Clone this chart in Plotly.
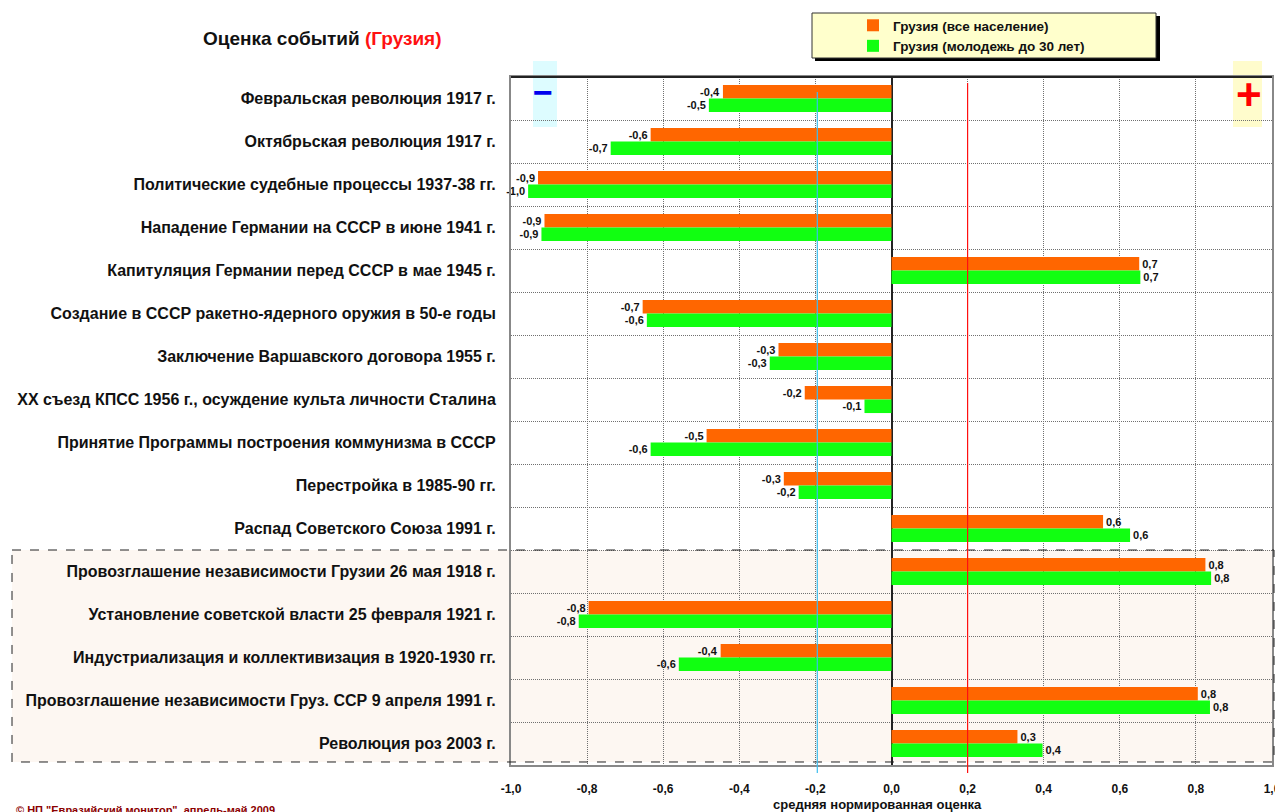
import plotly.graph_objects as go

events = [
    "Февральская революция 1917 г.",
    "Октябрьская революция 1917 г.",
    "Политические судебные процессы 1937-38 гг.",
    "Нападение Германии на СССР в июне 1941 г.",
    "Капитуляция Германии перед СССР в мае 1945 г.",
    "Создание в СССР ракетно-ядерного оружия в 50-е годы",
    "Заключение Варшавского договора 1955 г.",
    "XX съезд КПСС 1956 г., осуждение культа личности Сталина",
    "Принятие Программы построения коммунизма в СССР",
    "Перестройка в 1985-90 гг.",
    "Распад Советского Союза 1991 г.",
    "Провозглашение независимости Грузии 26 мая 1918 г.",
    "Установление советской власти 25 февраля 1921 г.",
    "Индустриализация и коллективизация в 1920-1930 гг.",
    "Провозглашение независимости Груз. ССР 9 апреля 1991 г.",
    "Революция роз 2003 г.",
]
all_population = [-0.443, -0.633, -0.929, -0.912, 0.651, -0.654, -0.297, -0.228,
                  -0.486, -0.283, 0.556, 0.825, -0.796, -0.449, 0.805, 0.331]
youth = [-0.480, -0.738, -0.955, -0.920, 0.654, -0.643, -0.320, -0.071,
         -0.633, -0.244, 0.627, 0.840, -0.822, -0.559, 0.837, 0.397]
series_names = ["Грузия (все население)", "Грузия (молодежь до 30 лет)"]
tick_values = [-1.0, -0.8, -0.6, -0.4, -0.2, 0.0, 0.2, 0.4, 0.6, 0.8, 1.0]
tick_labels = [f"{v:.1f}".replace(".", ",") for v in tick_values]
georgia_block_start = 11  # index of first Georgia-specific event
ref_lines = {"neg": -0.195, "pos": 0.2}


def fmt(v):
    return f"{v:.1f}".replace(".", ",")


FONT = "Liberation Sans, Arial, sans-serif"

# the page body has an 8px default margin; layout is expressed in figure pixels
W, H = 1275, 804
L, T, R, B = 503, 69, 11, 47
PW, PH = W - L - R, H - T - B


def px(xpix):
    """screen x pixel -> paper x"""
    return (xpix - 8 - L) / PW


def py(ypix):
    """screen y pixel -> paper y"""
    return 1 - (ypix - 8 - T) / PH


fig = go.Figure()
for name, vals, color, grp in [
    (series_names[0], all_population, "#FF6600", "a"),
    (series_names[1], youth, "#11FF11", "b"),
]:
    fig.add_trace(go.Bar(
        y=events, x=vals, orientation="h", name=name,
        marker=dict(color=color, line=dict(width=0)),
        text=[fmt(v) for v in vals], textposition="outside",
        textfont=dict(family=FONT, size=11, color="#111", weight="bold"),
        constraintext="none", cliponaxis=False, legendgroup=grp,
    ))

n = len(events)
shapes = []
# Georgia-specific block background and dashed frame
shapes.append(dict(type="rect", xref="paper", yref="y",
                   x0=px(12), x1=px(1274), y0=georgia_block_start - 0.5, y1=n - 0.5 - 0.07,
                   fillcolor="#FDF7F2", line=dict(width=0), layer="below"))
shapes.append(dict(type="rect", xref="paper", yref="y",
                   x0=px(12), x1=px(1274), y0=georgia_block_start - 0.5, y1=n - 0.5 - 0.07,
                   fillcolor="rgba(0,0,0,0)", line=dict(color="#222", width=1, dash="dash"),
                   layer="above"))
# reference vertical lines
shapes.append(dict(type="line", xref="x", yref="paper", x0=ref_lines["neg"], x1=ref_lines["neg"],
                   y0=py(92), y1=py(773), line=dict(color="#3CBEEF", width=1.2), layer="above"))
shapes.append(dict(type="line", xref="x", yref="paper", x0=ref_lines["pos"], x1=ref_lines["pos"],
                   y0=py(83), y1=py(773), line=dict(color="#FF1010", width=1.2), layer="above"))
# plot top border
shapes.append(dict(type="line", xref="paper", yref="paper", x0=0, x1=1, y0=1, y1=1,
                   line=dict(color="#222", width=2)))
# +/- marker backgrounds
shapes.append(dict(type="rect", xref="paper", yref="paper", x0=px(533), x1=px(557),
                   y0=py(127), y1=py(61), fillcolor="#DDFCFF", line=dict(width=0), layer="below"))
shapes.append(dict(type="rect", xref="paper", yref="paper", x0=px(1233), x1=px(1262),
                   y0=py(127), y1=py(61), fillcolor="#FFFCCC", line=dict(width=0), layer="below"))
# legend box shadow + box
shapes.append(dict(type="rect", xref="paper", yref="paper",
                   x0=px(815), x1=px(1160), y0=py(61), y1=py(16),
                   fillcolor="#000", line=dict(width=0)))
shapes.append(dict(type="rect", xref="paper", yref="paper",
                   x0=px(812), x1=px(1156), y0=py(58), y1=py(13),
                   fillcolor="#FFFFCC", line=dict(color="#333", width=1)))

annotations = [
    dict(text="Оценка событий <span style='color:#FF1111'>(Грузия)</span>",
         xref="paper", yref="paper", x=px(322), y=py(38),
         xanchor="center", yanchor="middle", showarrow=False,
         font=dict(family=FONT, size=19, color="#111", weight="bold")),
    dict(text="средняя нормированная оценка",
         xref="paper", yref="paper", x=px(877), y=py(804),
         xanchor="center", yanchor="middle", showarrow=False,
         font=dict(family=FONT, size=13, color="#111", weight="bold")),
    dict(text="© НП \"Евразийский монитор\", апрель-май 2009",
         xref="paper", yref="paper", x=px(14), y=py(802),
         xanchor="left", yanchor="top", showarrow=False,
         font=dict(family=FONT, size=11, color="#8B0000", weight="bold")),
    dict(text="−", xref="paper", yref="paper", x=px(543), y=py(92),
         xanchor="center", yanchor="middle", showarrow=False,
         font=dict(family=FONT, size=34, color="#0000EE", weight="bold")),
    dict(text="+", xref="paper", yref="paper", x=px(1249), y=py(94),
         xanchor="center", yanchor="middle", showarrow=False,
         font=dict(family=FONT, size=44, color="#FF0000", weight="bold")),
]

fig.update_layout(
    width=W, height=H,
    margin=dict(l=L, r=R, t=T, b=B, autoexpand=False),
    paper_bgcolor="white", plot_bgcolor="rgba(0,0,0,0)",
    barmode="group", bargap=0.37, bargroupgap=0.0,
    font=dict(family=FONT, color="#111"),
    showlegend=True,
    legend=dict(x=px(853), y=py(10), xanchor="left", yanchor="top",
                bgcolor="rgba(0,0,0,0)", borderwidth=0, traceorder="normal",
                tracegroupgap=4, itemclick=False,
                font=dict(family=FONT, size=13.5, color="#111", weight="bold")),
    shapes=shapes,
    annotations=annotations,
    xaxis=dict(range=[-1, 1], tickvals=tick_values, ticktext=tick_labels,
               showgrid=True, gridcolor="#707070", griddash="1px,1px", gridwidth=1,
               zeroline=True, zerolinecolor="#222", zerolinewidth=1.5,
               showline=True, linecolor="#888", linewidth=2, mirror=True,
               ticks="", ticklabelstandoff=12,
               tickfont=dict(family=FONT, size=12, color="#111", weight="bold")),
    yaxis=dict(type="category", categoryorder="array", categoryarray=events,
               range=[n - 0.5, -0.5], tickson="boundaries",
               showgrid=True, gridcolor="#707070", griddash="1px,1px", gridwidth=1,
               showline=True, linecolor="#888", linewidth=2, mirror=True,
               ticks="", ticklabelstandoff=10,
               tickfont=dict(family=FONT, size=16, color="#111", weight="bold")),
)

fig.write_html("out.html")
